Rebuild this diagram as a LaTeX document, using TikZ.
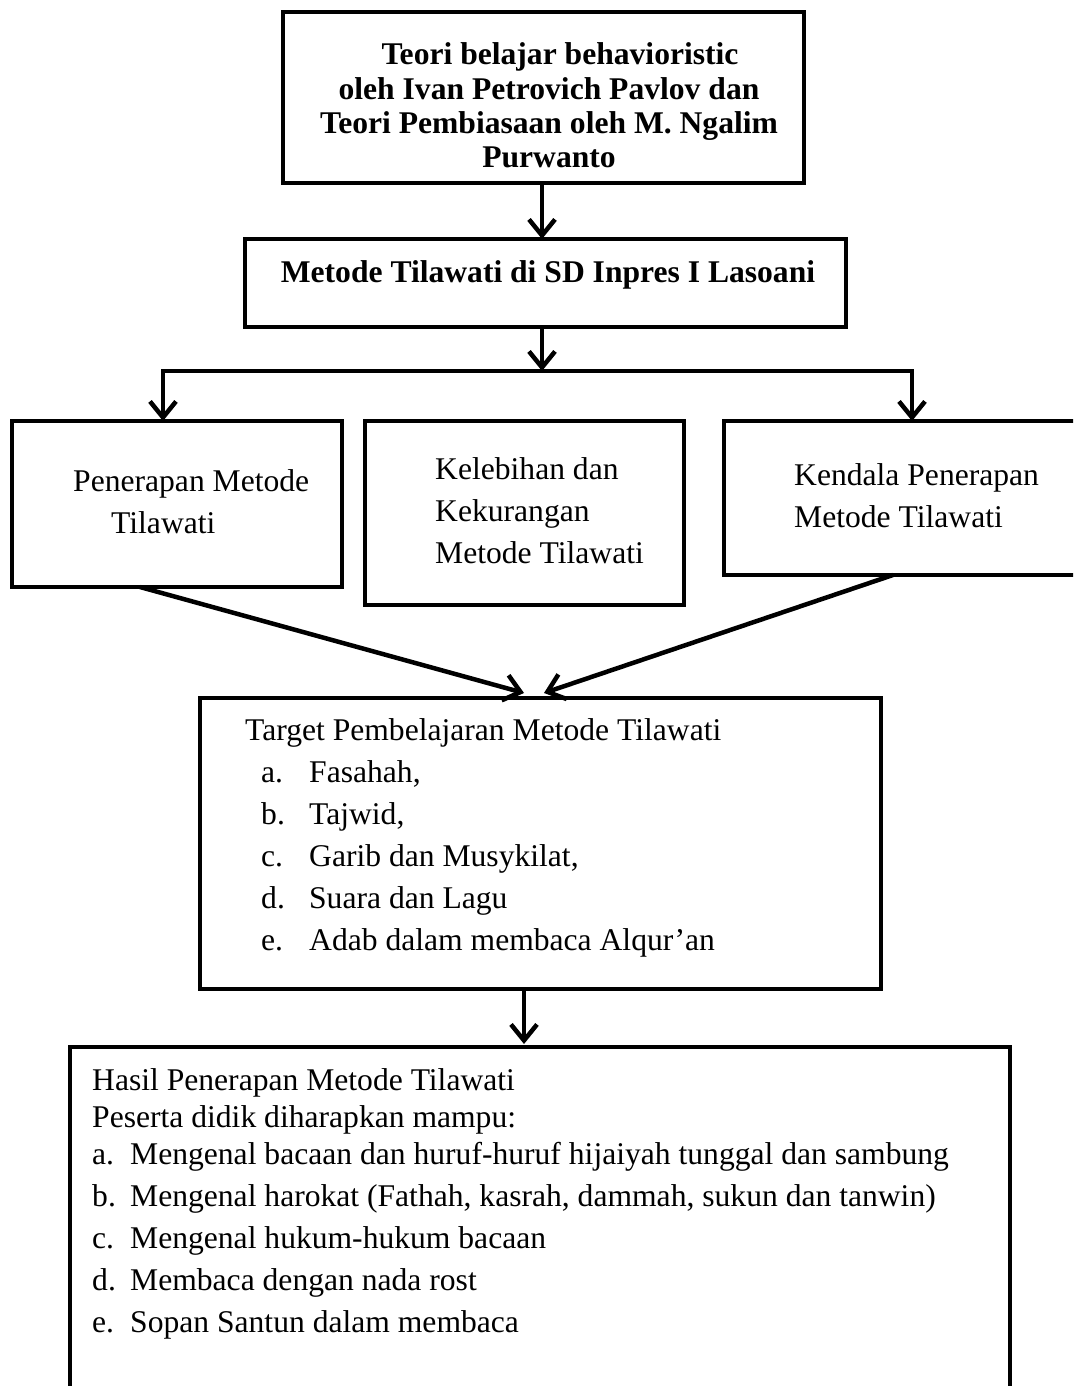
\documentclass[tikz,border=0pt]{standalone}
\usepackage{fontspec}
\setmainfont{Liberation Serif}
\usetikzlibrary{arrows.meta}
\tikzset{
  box/.style={draw, line width=4.5pt, inner sep=0pt, outer sep=0pt},
  txt/.style={inner sep=0pt, anchor=base west, align=left, font=\fontsize{31.6pt}{42pt}\selectfont},
  head/.style={inner sep=0pt, anchor=base, align=center, font=\fontsize{31.6pt}{34pt}\selectfont\bfseries},
  link/.style={line width=4.5pt, -{Straight Barb[length=16pt,width=26pt]}},
  fork/.style={line width=4.5pt, {Straight Barb[length=16pt,width=26pt]}-{Straight Barb[length=16pt,width=26pt]}},
}
\newcommand{\lbl}[2]{\makebox[#1][l]{#2}}

\begin{document}
\begin{tikzpicture}[x=1pt, y=-1pt]
\useasboundingbox (0,0) rectangle (1073,1386);
\clip (0,0) rectangle (1073,1386);

\node[box, minimum width=521pt, minimum height=171pt] (theory) at (543.5, 97.5) {};
\node[box, minimum width=601pt, minimum height=88pt] (method) at (545.5, 283) {};
\node[box, minimum width=330pt, minimum height=166pt] (apply) at (177, 504) {};
\node[box, minimum width=319pt, minimum height=184pt] (pros) at (524.5, 513) {};
\node[box, minimum width=361pt, minimum height=154pt] (issue) at (904.5, 498) {};
\node[box, minimum width=681pt, minimum height=291pt] (target) at (540.5, 843.5) {};
\node[box, minimum width=940pt, minimum height=353pt] (result) at (540, 1223.5) {};

\node[head] (theorytext) at (549, 167) {\hspace*{22pt}Teori belajar behavioristic\\oleh Ivan Petrovich Pavlov dan\\Teori Pembiasaan oleh M. Ngalim\\Purwanto};
\node[head] (methodtext) at (548, 282) {Metode Tilawati di SD Inpres I Lasoani};
\node[txt] (applytext) at (73, 533) {Penerapan Metode\\\hspace*{38pt}Tilawati};
\node[txt] (prostext) at (435, 563) {Kelebihan dan\\Kekurangan\\Metode Tilawati};
\node[txt] (issuetext) at (794, 527) {Kendala Penerapan\\Metode Tilawati};
\node[txt] (targettext) at (245, 950) {Target Pembelajaran Metode Tilawati\\
  \hspace*{16pt}\lbl{48pt}{a.}Fasahah,\\
  \hspace*{16pt}\lbl{48pt}{b.}Tajwid,\\
  \hspace*{16pt}\lbl{48pt}{c.}Garib dan Musykilat,\\
  \hspace*{16pt}\lbl{48pt}{d.}Suara dan Lagu\\
  \hspace*{16pt}\lbl{48pt}{e.}Adab dalam membaca Alqur’an};
\node[txt] (resulttext) at (92, 1332) {Hasil Penerapan Metode Tilawati\\[-5pt]
  Peserta didik diharapkan mampu:\\[-5pt]
  \lbl{38pt}{a.}Mengenal bacaan dan huruf-huruf hijaiyah tunggal dan sambung\\
  \lbl{38pt}{b.}Mengenal harokat (Fathah, kasrah, dammah, sukun dan tanwin)\\
  \lbl{38pt}{c.}Mengenal hukum-hukum bacaan\\
  \lbl{38pt}{d.}Membaca dengan nada rost\\
  \lbl{38pt}{e.}Sopan Santun dalam membaca};

\coordinate (split) at (542, 371);
\coordinate (lturn) at (163, 371);
\coordinate (rturn) at (912, 371);
\coordinate (drop) at (524, 0);

\draw[link] (split |- theory.south) -- (split |- method.north);
\draw[link] (split |- method.south) -- (split);
\draw[fork] (lturn |- apply.north) -- (lturn) -- (rturn) -- (rturn |- issue.north);
\draw[link] ([xshift=128pt]apply.south west) -- ([xshift=-16.5pt, yshift=5pt]target.north);
\draw[link] ([xshift=169pt]issue.south west) -- ([xshift=3.5pt, yshift=5pt]target.north);
\draw[link, shorten >=3pt] (drop |- target.south) -- (drop |- result.north);

\end{tikzpicture}
\end{document}
